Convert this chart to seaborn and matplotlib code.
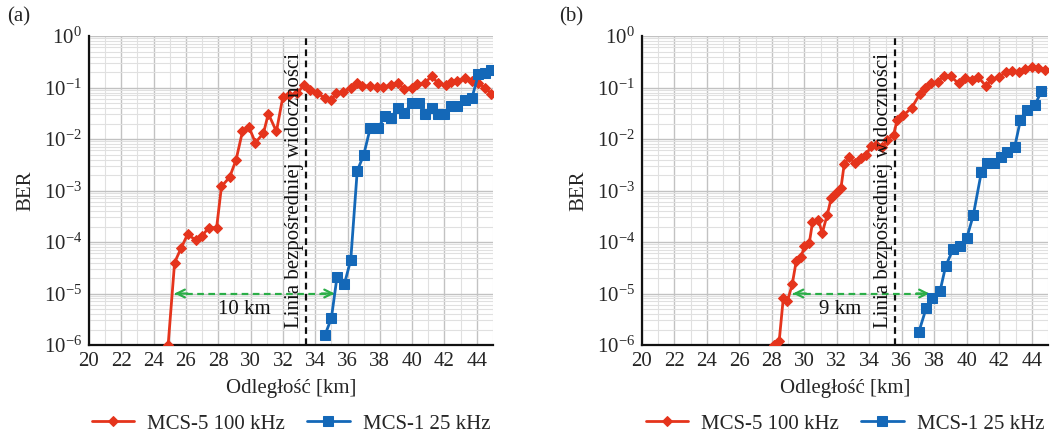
import numpy as np
import pandas as pd
import matplotlib
matplotlib.use("Agg")
import matplotlib.pyplot as plt
import matplotlib.ticker as mticker
import seaborn as sns

# ---------------- data ----------------
xa_red = [24.9, 25.3, 25.7, 26.1, 26.6, 27.0, 27.4, 27.9, 28.2, 28.7, 29.1, 29.5, 29.9,
          30.3, 30.8, 31.1, 31.6, 32.0, 32.4, 32.9, 33.3, 33.7, 34.1, 34.6, 35.0, 35.3,
          35.7, 36.2, 36.6, 36.9, 37.4, 37.8, 38.2, 38.7, 39.1, 39.5, 40.0, 40.3, 40.8,
          41.2, 41.6, 42.1, 42.4, 42.8, 43.3, 43.7, 44.1, 44.5, 44.9]
ya_red = [1.0e-6, 4.0e-5, 7.6e-5, 1.4e-4, 1.1e-4, 1.3e-4, 1.9e-4, 1.9e-4, 1.2e-3, 1.8e-3,
          3.9e-3, 1.4e-2, 1.7e-2, 8.5e-3, 1.3e-2, 3.1e-2, 1.4e-2, 6.6e-2, 7.0e-2, 7.8e-2,
          1.12e-1, 8.9e-2, 7.8e-2, 6.3e-2, 5.7e-2, 7.8e-2, 8.1e-2, 9.8e-2, 1.2e-1, 1.07e-1,
          1.07e-1, 1.04e-1, 1.04e-1, 1.1e-1, 1.2e-1, 9.5e-2, 1.0e-1, 1.15e-1, 1.2e-1,
          1.7e-1, 1.2e-1, 1.1e-1, 1.3e-1, 1.35e-1, 1.5e-1, 1.35e-1, 1.2e-1, 1.0e-1, 7.5e-2]

xa_blue = [34.6, 35.0, 35.35, 35.8, 36.2, 36.6, 37.0, 37.4, 37.9, 38.3, 38.7, 39.1, 39.5,
           40.0, 40.4, 40.8, 41.2, 41.6, 42.0, 42.4, 42.8, 43.3, 43.7, 44.1, 44.5, 44.9]
ya_blue = [1.55e-6, 3.3e-6, 2.1e-5, 1.5e-5, 4.5e-5, 2.4e-3, 4.9e-3, 1.6e-2, 1.6e-2, 2.8e-2,
           2.6e-2, 4.0e-2, 3.2e-2, 5.0e-2, 5.0e-2, 3.1e-2, 4.0e-2, 3.1e-2, 3.1e-2, 4.4e-2,
           4.4e-2, 5.7e-2, 6.3e-2, 1.8e-1, 1.9e-1, 2.2e-1]

xb_red = [28.15, 28.45, 28.7, 28.95, 29.25, 29.5, 29.8, 30.0, 30.3, 30.5, 30.85, 31.1, 31.4,
          31.65, 31.95, 32.25, 32.45, 32.75, 33.1, 33.5, 33.8, 34.1, 34.4, 34.8, 35.1,
          35.5, 35.7, 36.1, 36.6, 37.1, 37.4, 37.8, 38.2, 38.6, 39.0, 39.5, 39.9, 40.3,
          40.7, 41.2, 41.5, 42.0, 42.4, 42.8, 43.2, 43.6, 44.0, 44.4, 44.8]
yb_red = [1.0e-6, 1.2e-6, 8.0e-6, 7.0e-6, 1.5e-5, 4.3e-5, 5.1e-5, 8.3e-5, 9.4e-5, 2.4e-4,
          2.7e-4, 1.5e-4, 3.3e-4, 7.0e-4, 9.0e-4, 1.1e-3, 3.2e-3, 4.5e-3, 3.4e-3, 4.3e-3,
          4.9e-3, 7.3e-3, 7.6e-3, 7.0e-3, 9.5e-3, 1.2e-2, 2.3e-2, 2.9e-2, 4.0e-2, 7.4e-2,
          1.0e-1, 1.2e-1, 1.3e-1, 1.7e-1, 1.65e-1, 1.2e-1, 1.5e-1, 1.4e-1, 1.6e-1, 1.05e-1,
          1.45e-1, 1.6e-1, 2.0e-1, 2.1e-1, 2.0e-1, 2.3e-1, 2.5e-1, 2.4e-1, 2.2e-1]

xb_blue = [37.05, 37.5, 37.85, 38.35, 38.7, 39.15, 39.6, 40.0, 40.4, 40.9, 41.25, 41.7,
           42.1, 42.5, 42.95, 43.3, 43.7, 44.2, 44.6]
yb_blue = [1.8e-6, 5.2e-6, 8.0e-6, 1.1e-5, 3.4e-5, 7.2e-5, 8.3e-5, 1.2e-4, 3.3e-4, 2.3e-3,
           3.4e-3, 3.4e-3, 4.5e-3, 5.6e-3, 7.0e-3, 2.3e-2, 3.6e-2, 4.6e-2, 8.5e-2]

series_labels = ["MCS-5 100 kHz", "MCS-1 25 kHz"]
panel_labels = ["(a)", "(b)"]
los_x = [33.45, 35.6]                   # line-of-sight distance
gap_from = [25.3, 29.3]
gap_to = [35.2, 37.7]
gap_text = ["10 km", "9 km"]
gap_text_x = [29.6, 32.2]
x_ticks = list(range(20, 45, 2))
xlabel = "Odległość [km]"
ylabel = "BER"
los_text = "Linia bezpośredniej widoczności"

# ---------------- style ----------------
sns.set_theme(style="whitegrid")
plt.rcParams["font.family"] = ["Liberation Serif", "DejaVu Serif"]
plt.rcParams["mathtext.fontset"] = "custom"
plt.rcParams["mathtext.rm"] = "Liberation Serif"
plt.rcParams["mathtext.it"] = "Liberation Serif:italic"
plt.rcParams["axes.facecolor"] = "white"

RED = "#E5341C"
BLUE = "#1468B8"
GREEN = "#2BAE48"
FS = 15

fig = plt.figure(figsize=(10.59, 4.36), dpi=100)
ax_a = fig.add_axes([0.084, 0.2087, 0.3815, 0.7087])
ax_b = fig.add_axes([0.6062, 0.2087, 0.3834, 0.7087])

panels = [
    (ax_a, xa_red, ya_red, xa_blue, ya_blue),
    (ax_b, xb_red, yb_red, xb_blue, yb_blue),
]

for i, (ax, xr, yr, xbl, ybl) in enumerate(panels):
    df_r = pd.DataFrame({"x": xr, "y": yr})
    df_b = pd.DataFrame({"x": xbl, "y": ybl})
    sns.lineplot(data=df_r, x="x", y="y", ax=ax, color=RED, marker="D", markersize=5,
                 markeredgecolor=RED, linewidth=2, label=series_labels[0], zorder=4)
    sns.lineplot(data=df_b, x="x", y="y", ax=ax, color=BLUE, marker="s", markersize=6.5,
                 markeredgecolor=BLUE, linewidth=2, label=series_labels[1], zorder=4)
    ax.set_yscale("log")
    ax.set_ylim(1e-6, 1)
    ax.set_xlim(20, 45)
    ax.set_xticks(x_ticks)
    ax.xaxis.set_minor_locator(mticker.MultipleLocator(1))
    ax.yaxis.set_major_locator(mticker.LogLocator(base=10, numticks=10))
    ax.yaxis.set_minor_locator(mticker.LogLocator(base=10, subs=np.arange(2, 10), numticks=20))
    ax.yaxis.set_minor_formatter(mticker.NullFormatter())
    ax.grid(which="major", color="#c2c2c2", linewidth=1.0)
    ax.grid(which="minor", color="#e0e0e0", linewidth=0.8)
    ax.tick_params(axis="both", which="major", labelsize=FS, length=0, pad=5)
    ax.tick_params(axis="both", which="minor", length=0)
    for s in ["top", "right"]:
        ax.spines[s].set_visible(False)
    for s in ["left", "bottom"]:
        ax.spines[s].set_visible(True)
        ax.spines[s].set_color("#111111")
        ax.spines[s].set_linewidth(1.6)
    ax.set_xlabel(xlabel, fontsize=FS, labelpad=6)
    ax.set_ylabel(ylabel, fontsize=FS, labelpad=6)

    # line of sight
    ax.axvline(los_x[i], color="#111111", linestyle=(0, (3, 2)), linewidth=1.6, zorder=3)
    ax.text(los_x[i] - 0.15, 1.0e-3, los_text, rotation=90, ha="right", va="center",
            fontsize=FS, color="#111111", zorder=5)

    # distance gap arrow
    ax.plot([gap_from[i], gap_to[i]], [1e-5, 1e-5], color=GREEN, linestyle=(0, (3, 2)),
            linewidth=1.6, zorder=3)
    ax.annotate("", xy=(gap_from[i], 1e-5), xytext=(gap_from[i] + 0.8, 1e-5),
                arrowprops=dict(arrowstyle="->", color=GREEN, lw=1.6, mutation_scale=14,
                                shrinkA=0, shrinkB=0), zorder=3)
    ax.annotate("", xy=(gap_to[i], 1e-5), xytext=(gap_to[i] - 0.8, 1e-5),
                arrowprops=dict(arrowstyle="->", color=GREEN, lw=1.6, mutation_scale=14,
                                shrinkA=0, shrinkB=0), zorder=3)
    ax.text(gap_text_x[i], 4.8e-6, gap_text[i], ha="center", va="center", fontsize=FS,
            color="#111111", zorder=5)

    leg = ax.legend(loc="center", bbox_to_anchor=(0.5, -0.255), ncol=2, frameon=False,
                    fontsize=FS, handlelength=2.05, columnspacing=1.05, handletextpad=0.63,
                    borderaxespad=0, borderpad=0)

fig.text(0.007, 0.962, panel_labels[0], fontsize=FS, ha="left", va="center")
fig.text(0.528, 0.962, panel_labels[1], fontsize=FS, ha="left", va="center")

fig.savefig("out.png", dpi=100, facecolor="white")
